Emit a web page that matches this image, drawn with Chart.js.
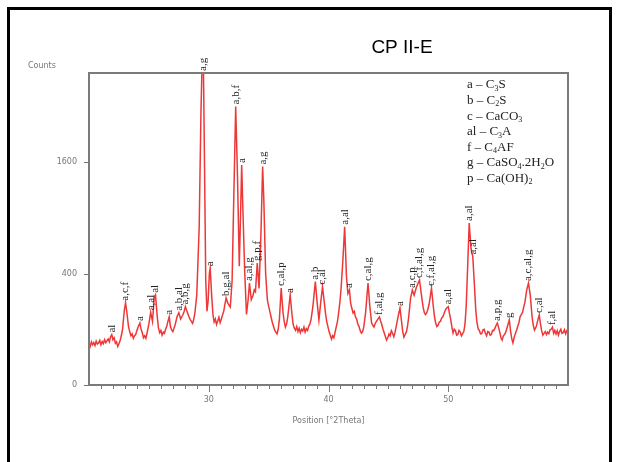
<!DOCTYPE html>
<html>
<head>
<meta charset="utf-8">
<script src="https://cdn.jsdelivr.net/npm/chart.js@4.4.1/dist/chart.umd.min.js"></script>
<style>
  html, body { margin: 0; padding: 0; background: #fff; }
  canvas { display: block; }
</style>
</head>
<body>
<canvas id="xrd" width="617" height="462"></canvas>
<script>
// diffractogram CP II-E : position (2theta) / intensite (counts)
var twoTheta = [
  20.0, 20.1, 20.2, 20.3, 20.4, 20.5, 20.6, 20.7, 20.8, 20.9, 21.0, 21.1, 21.2, 21.3, 21.4, 21.5, 21.6, 21.7, 21.8,
  21.9, 22.0, 22.1, 22.2, 22.3, 22.4, 22.5, 22.6, 22.7, 22.8, 22.95, 23.05, 23.15, 23.3,
  23.4, 23.5, 23.6, 23.7, 23.8, 23.9, 24.0, 24.1, 24.25, 24.35, 24.45, 24.55, 24.65, 24.75, 24.85, 25.0, 25.15,
  25.3, 25.45, 25.55, 25.7, 25.8, 25.9, 26.0, 26.1, 26.2, 26.3, 26.4, 26.5, 26.6, 26.7, 26.8, 26.9,
  27.0, 27.1, 27.2, 27.35, 27.5, 27.65, 27.75, 27.85, 27.95, 28.05, 28.15, 28.25, 28.35, 28.45, 28.55, 28.65, 28.75, 28.85,
  29.0, 29.2, 29.35, 29.45, 29.55, 29.65, 29.75, 29.85, 29.95,
  30.05, 30.12, 30.25, 30.35, 30.45, 30.55, 30.65, 30.75, 30.85, 30.95, 31.05, 31.15, 31.25, 31.35, 31.45,
  31.6, 31.7, 31.8, 31.95, 32.1, 32.25, 32.4, 32.55, 32.65, 32.75, 32.85,
  33.0, 33.15, 33.3, 33.4, 33.55, 33.7, 33.8, 33.9, 34.05, 34.2,
  34.35, 34.5, 34.6, 34.75, 34.9, 35.0, 35.1, 35.2, 35.3, 35.4, 35.5, 35.6, 35.7, 35.8, 35.9,
  36.05, 36.2, 36.3, 36.4, 36.5, 36.6, 36.8, 36.95, 37.05, 37.15, 37.25, 37.35, 37.45, 37.55, 37.65, 37.75, 37.85, 37.95,
  38.05, 38.15, 38.25, 38.35, 38.45, 38.55, 38.7, 38.9,
  39.05, 39.2, 39.35, 39.5, 39.65, 39.75, 39.85, 39.95, 40.05, 40.15, 40.25, 40.35, 40.45, 40.55, 40.65, 40.75, 40.85, 40.95,
  41.05, 41.2, 41.35,
  41.5, 41.62, 41.75, 41.85, 41.95, 42.05, 42.15, 42.25, 42.35, 42.45, 42.55, 42.65, 42.75, 42.85, 42.95, 43.1,
  43.3, 43.45, 43.6, 43.7, 43.8, 43.9, 44.0, 44.1, 44.25, 44.35, 44.45, 44.55, 44.65, 44.75, 44.85, 44.95,
  45.05, 45.15, 45.25, 45.35, 45.45, 45.55, 45.65, 45.75, 45.85, 45.97,
  46.1, 46.2, 46.3, 46.4, 46.5, 46.6, 46.7, 46.85, 47.0, 47.15, 47.35, 47.6, 47.8, 47.9, 48.0, 48.1, 48.2, 48.3, 48.4, 48.6, 48.75,
  48.85, 48.95, 49.05, 49.15, 49.25, 49.35, 49.45, 49.55, 49.65, 49.75, 49.85, 50.0, 50.1, 50.2, 50.3, 50.4, 50.5, 50.6, 50.7, 50.8, 50.9,
  51.0, 51.1, 51.2, 51.3, 51.4, 51.5, 51.6, 51.75, 51.9, 52.05, 52.2, 52.3, 52.4, 52.5, 52.6, 52.7, 52.8, 52.9,
  53.0, 53.1, 53.2, 53.3, 53.4, 53.5, 53.6, 53.7, 53.8, 53.9, 54.0, 54.1, 54.2, 54.3, 54.4, 54.5, 54.6, 54.7, 54.8, 54.9,
  55.0, 55.1, 55.2, 55.3, 55.4, 55.5, 55.6, 55.7, 55.8, 55.9, 56.0, 56.1, 56.2, 56.3, 56.4, 56.55, 56.7, 56.85,
  57.0, 57.1, 57.2, 57.35, 57.5, 57.6, 57.7, 57.8, 57.9,
  58.0, 58.1, 58.2, 58.3, 58.4, 58.5, 58.6, 58.7, 58.8, 58.9, 59.0, 59.1, 59.2, 59.3, 59.4, 59.5, 59.6, 59.7, 59.8, 59.9, 60.0
];
var counts = [
  55, 48, 60, 52, 58, 50, 62, 54, 57, 64, 52, 61, 55, 66, 58, 63, 68, 60, 75,
  82, 66, 72, 56, 60, 48, 55, 64, 78, 100, 180, 218, 175, 110,
  92, 78, 84, 70, 78, 82, 96, 108, 124, 100, 88, 72, 78, 70, 88, 120, 170,
  130, 250, 262, 150, 105, 88, 96, 80, 90, 86, 100, 112, 132, 150, 110, 98,
  92, 104, 118, 150, 168, 140, 150, 160, 175, 198, 180, 165, 150, 138, 130, 122, 140, 170,
  260, 800, 2400, 3400, 3400, 1500, 350, 175, 230,
  400, 440, 250, 160, 128, 140, 118, 132, 148, 125, 140, 158, 175, 210, 244,
  215, 205, 196, 350, 1200, 2500, 1400, 455, 900, 1560, 1000,
  420, 160, 240, 335, 235, 260, 291, 280, 480, 300,
  700, 1537, 1100, 400, 230, 200, 175, 150, 128, 112, 98, 90, 84, 100, 140,
  303, 170, 130, 108, 120, 150, 261, 160, 118, 104, 96, 110, 92, 104, 88, 100, 94, 108,
  90, 102, 96, 112, 120, 140, 200, 344,
  220, 136, 220, 311, 220, 165, 130, 110, 92, 80, 68, 78, 72, 90, 110, 130, 170, 220,
  300, 500, 807,
  380, 270, 291, 215, 190, 167, 175, 150, 140, 120, 110, 95, 87, 92, 110, 170,
  335, 200, 124, 115, 108, 122, 130, 138, 149, 132, 118, 100, 88, 76, 65, 72,
  84, 78, 95, 86, 75, 88, 110, 135, 160, 191,
  130, 92, 74, 82, 90, 112, 150, 240, 291, 260, 310, 355, 240, 195, 170, 160, 167, 185, 210, 303, 200,
  150, 124, 110, 115, 128, 130, 145, 150, 165, 180, 190, 198, 165, 140, 110, 87, 100, 95, 80, 82, 96,
  90, 78, 85, 92, 120, 200, 400, 846, 600, 531, 300, 180, 124, 102, 95, 84, 85, 98,
  100, 86, 78, 92, 90, 80, 82, 96, 95, 104, 115, 124, 108, 90, 72, 65, 78, 82, 90, 104,
  120, 136, 95, 70, 57, 72, 85, 96, 110, 125, 150, 160, 170, 195, 220, 290, 335, 260,
  150, 115, 97, 110, 140, 158, 120, 95, 80,
  86, 92, 82, 90, 85, 98, 100, 108, 86, 96, 84, 95, 80, 92, 100, 86, 88, 98, 84, 95, 90
];

// identification des pics
var peakPos = [21.9, 23.05, 24.25, 25.15, 25.55, 26.7, 27.5, 28.05, 29.5, 30.12,
  31.45, 32.25, 32.75, 33.4, 34.05, 34.5, 36.05, 36.8, 38.9, 39.5,
  41.35, 41.75, 43.3, 44.25, 45.97, 47.0, 47.6, 48.6, 50.0, 51.75,
  52.05, 54.1, 55.1, 56.7, 57.6, 58.7];
var peakNames = ['al', 'a,c,f', 'a', 'a,al', 'al', 'a', 'a,b,al', 'a,b,g', 'a,g', 'a',
  'b,g,al', 'a,b,f', 'a', 'a,al,g', 'g,p,f', 'a,g', 'c,al,p', 'a', 'a,b', 'c,al',
  'a,al', 'a', 'c,al,g', 'f,al,g', 'a', 'a,c,p', 'c,f,al,g', 'c,f,al,g', 'a,al', 'a,al',
  'a,al', 'a,p,g', 'g', 'a,c,al,g', 'c,al', 'f,al'];

// legende des phases (_n = indice)
var phaseKeys = ['a', 'b', 'c', 'al', 'f', 'g', 'p'];
var phaseNames = ['C_3S', 'C_2S', 'CaCO_3', 'C_3A', 'C_4AF', 'CaSO_4.2H_2O', 'Ca(OH)_2'];

var yTicks = [0, 400, 1600];
var xMin = 20, xMax = 60, yMax = 3136;

/******************************************/
// echelle racine carree (comme le logiciel du diffractometre)
class SqrtScale extends Chart.LinearScale {
  getPixelForValue(value) {
    if (value === null || value === undefined || isNaN(value)) return NaN;
    var lo = Math.sqrt(this.min), hi = Math.sqrt(this.max);
    return this.getPixelForDecimal((Math.sqrt(Math.max(value, 0)) - lo) / (hi - lo));
  }
  getValueForPixel(pixel) {
    var lo = Math.sqrt(this.min), hi = Math.sqrt(this.max);
    var s = lo + this.getDecimalForPixel(pixel) * (hi - lo);
    return s * s;
  }
}
SqrtScale.id = 'sqrt';
SqrtScale.defaults = Chart.LinearScale.defaults;
Chart.register(SqrtScale);

/******************************************/
function drawRich(ctx, str, x, y, size) {
  // texte avec indices
  var parts = str.split('_');
  ctx.font = size + 'px "Liberation Serif"';
  ctx.fillText(parts[0], x, y);
  x += ctx.measureText(parts[0]).width;
  for (var i = 1; i < parts.length; i++) {
    var sub = parts[i].charAt(0), rest = parts[i].slice(1);
    ctx.font = Math.round(size * 0.65) + 'px "Liberation Serif"';
    ctx.fillText(sub, x, y + size * 0.28);
    x += ctx.measureText(sub).width;
    ctx.font = size + 'px "Liberation Serif"';
    ctx.fillText(rest, x, y);
    x += ctx.measureText(rest).width;
  }
}

var decor = {
  id: 'decor',
  beforeDraw: function(chart) {
    var c = chart.ctx;
    c.save();
    c.fillStyle = '#fff';
    c.fillRect(0, 0, chart.width, chart.height);
    c.strokeStyle = '#000';
    c.lineWidth = 3;
    c.strokeRect(8.5, 8.5, 602, 470);
    c.restore();
  },
  afterDraw: function(chart) {
    var c = chart.ctx, a = chart.chartArea;
    var xs = chart.scales.x, ys = chart.scales.y;
    c.save();
    // cadre du graphe
    c.strokeStyle = '#7b7b7b';
    c.lineWidth = 2;
    c.strokeRect(a.left, a.top, a.right - a.left, a.bottom - a.top);
    // graduations
    c.lineWidth = 1;
    c.strokeStyle = '#777';
    c.beginPath();
    xs.ticks.forEach(function(t) {
      if (t.value <= xMin || t.value >= xMax) return;
      var px = Math.round(xs.getPixelForValue(t.value)) + 0.5;
      c.moveTo(px, a.bottom);
      c.lineTo(px, a.bottom + (t.value % 10 === 0 ? 7 : 4));
    });
    ys.ticks.forEach(function(t) {
      var py = Math.round(ys.getPixelForValue(t.value)) + 0.5;
      c.moveTo(a.left - 5, py);
      c.lineTo(a.left, py);
    });
    c.stroke();

    // titre et libelle de l'axe y
    c.fillStyle = '#000';
    c.font = '19px "Liberation Sans"';
    c.textAlign = 'center';
    c.textBaseline = 'alphabetic';
    c.fillText('CP II-E', 402, 53);
    c.fillStyle = '#777';
    c.font = '8px "DejaVu Sans"';
    c.textAlign = 'left';
    c.textBaseline = 'middle';
    c.fillText('Counts', 28, 66);

    // noms des pics, verticaux
    c.fillStyle = '#222';
    c.font = '11px "Liberation Serif"';
    c.textBaseline = 'middle';
    peakPos.forEach(function(p, i) {
      var k = 0;
      for (var j = 1; j < twoTheta.length; j++) {
        if (Math.abs(twoTheta[j] - p) < Math.abs(twoTheta[k] - p)) k = j;
      }
      var px = xs.getPixelForValue(p);
      var py = Math.max(ys.getPixelForValue(counts[k]), a.top) - 2;
      c.save();
      c.translate(px, py);
      c.rotate(-Math.PI / 2);
      c.fillText(peakNames[i], 0, 0);
      c.restore();
    });

    // legende
    c.fillStyle = '#222';
    c.textBaseline = 'middle';
    phaseKeys.forEach(function(k, i) {
      drawRich(c, k + ' \u2013 ' + phaseNames[i], 467, 85 + i * 15.6, 13);
    });
    c.restore();
  }
};

/******************************************/
var ctx = document.getElementById('xrd').getContext('2d');
var myChart = new Chart(ctx, {
  type: 'line',
  data: {
    datasets: [{
      data: twoTheta.map(function(t, i) { return { x: t, y: counts[i] }; }),
      borderColor: 'rgb(238,55,55)',
      borderWidth: 1.5,
      pointRadius: 0,
      tension: 0,
      fill: false
    }]
  },
  options: {
    responsive: false,
    animation: false,
    layout: { padding: { left: 0, top: 73, right: 49, bottom: 0 } },
    plugins: {
      legend: { display: false },
      tooltip: { enabled: false }
    },
    scales: {
      x: {
        type: 'linear',
        min: xMin,
        max: xMax,
        grid: { display: false, drawTicks: false },
        border: { display: false },
        ticks: {
          stepSize: 1,
          autoSkip: false,
          maxRotation: 0,
          padding: 10,
          color: '#777',
          font: { family: 'DejaVu Sans', size: 8 },
          callback: function(v) { return (v % 10 === 0 && v > xMin && v < xMax) ? v : ''; }
        },
        title: {
          display: true,
          text: 'Position [\u00b02Theta]',
          color: '#777',
          font: { family: 'DejaVu Sans', size: 8 },
          padding: { top: 0, bottom: 36 }
        },
        afterFit: function(s) { s.height = 77; }
      },
      y: {
        type: 'sqrt',
        min: 0,
        max: yMax,
        grid: { display: false, drawTicks: false },
        border: { display: false },
        afterBuildTicks: function(s) { s.ticks = yTicks.map(function(v) { return { value: v }; }); },
        ticks: {
          padding: 12,
          color: '#777',
          font: { family: 'DejaVu Sans', size: 8 },
          callback: function(v) { return String(v); }
        },
        afterFit: function(s) { s.width = 89; }
      }
    }
  },
  plugins: [decor]
});
</script>
</body>
</html>
